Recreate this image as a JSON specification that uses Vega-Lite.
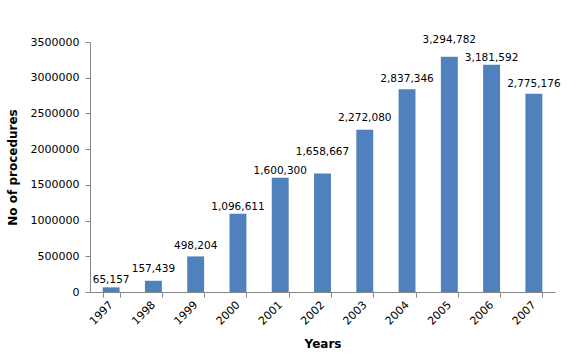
{
  "$schema": "https://vega.github.io/schema/vega-lite/v6.json",
  "width": 465,
  "height": 250,
  "autosize": {"type": "none"},
  "padding": {"left": 90, "top": 42, "right": 12, "bottom": 66},
  "background": "white",
  "data": {"values": [
    {"year": "1997", "value": 65157},
    {"year": "1998", "value": 157439},
    {"year": "1999", "value": 498204},
    {"year": "2000", "value": 1096611},
    {"year": "2001", "value": 1600300},
    {"year": "2002", "value": 1658667},
    {"year": "2003", "value": 2272080},
    {"year": "2004", "value": 2837346},
    {"year": "2005", "value": 3294782},
    {"year": "2006", "value": 3181592},
    {"year": "2007", "value": 2775176}
  ]},
  "encoding": {
    "x": {
      "field": "year", "type": "ordinal",
      "scale": {"paddingInner": 0.6, "paddingOuter": 0.3},
      "axis": {
        "title": "Years", "titleFont": "DejaVu Sans", "titleFontSize": 12, "titleFontWeight": "bold", "titleColor": "black",
        "titlePadding": 12,
        "labelAngle": -45, "labelAlign": "right", "labelBaseline": "middle",
        "labelFont": "DejaVu Sans", "labelFontSize": 11, "labelColor": "black", "labelPadding": 6,
        "tickBand": "extent", "tickSize": 5, "tickColor": "#868686", "domainColor": "#868686", "grid": false
      }
    },
    "y": {
      "field": "value", "type": "quantitative",
      "scale": {"domain": [0, 3500000], "nice": false},
      "axis": {
        "title": "No of procedures", "titleFont": "DejaVu Sans", "titleFontSize": 12, "titleFontWeight": "bold", "titleColor": "black",
        "titlePadding": 11,
        "values": [0, 500000, 1000000, 1500000, 2000000, 2500000, 3000000, 3500000],
        "format": "d",
        "labelFont": "DejaVu Sans", "labelFontSize": 11, "labelColor": "black", "labelPadding": 6,
        "tickSize": 5, "tickColor": "#868686", "domainColor": "#868686", "grid": false
      }
    }
  },
  "layer": [
    {"mark": {"type": "bar", "color": "#4F81BD"}},
    {
      "transform": [{"filter": {"field": "year", "oneOf": ["1997", "2000", "2001", "2006"]}}],
      "mark": {"type": "text", "baseline": "bottom", "dy": -2, "font": "DejaVu Sans", "fontSize": 10.5, "color": "black"},
      "encoding": {"text": {"field": "value", "type": "quantitative", "format": ","}}
    },
    {
      "transform": [{"filter": {"field": "year", "oneOf": ["1999", "2004", "2007"]}}],
      "mark": {"type": "text", "baseline": "bottom", "dy": -5, "font": "DejaVu Sans", "fontSize": 10.5, "color": "black"},
      "encoding": {"text": {"field": "value", "type": "quantitative", "format": ","}}
    },
    {
      "transform": [{"filter": {"field": "year", "oneOf": ["1998", "2003"]}}],
      "mark": {"type": "text", "baseline": "bottom", "dy": -7, "font": "DejaVu Sans", "fontSize": 10.5, "color": "black"},
      "encoding": {"text": {"field": "value", "type": "quantitative", "format": ","}}
    },
    {
      "transform": [{"filter": {"field": "year", "equal": "2005"}}],
      "mark": {"type": "text", "baseline": "bottom", "dy": -12, "font": "DejaVu Sans", "fontSize": 10.5, "color": "black"},
      "encoding": {"text": {"field": "value", "type": "quantitative", "format": ","}}
    },
    {
      "transform": [{"filter": {"field": "year", "equal": "2002"}}],
      "mark": {"type": "text", "baseline": "bottom", "dy": -17, "font": "DejaVu Sans", "fontSize": 10.5, "color": "black"},
      "encoding": {"text": {"field": "value", "type": "quantitative", "format": ","}}
    }
  ],
  "config": {"view": {"stroke": null}}
}
